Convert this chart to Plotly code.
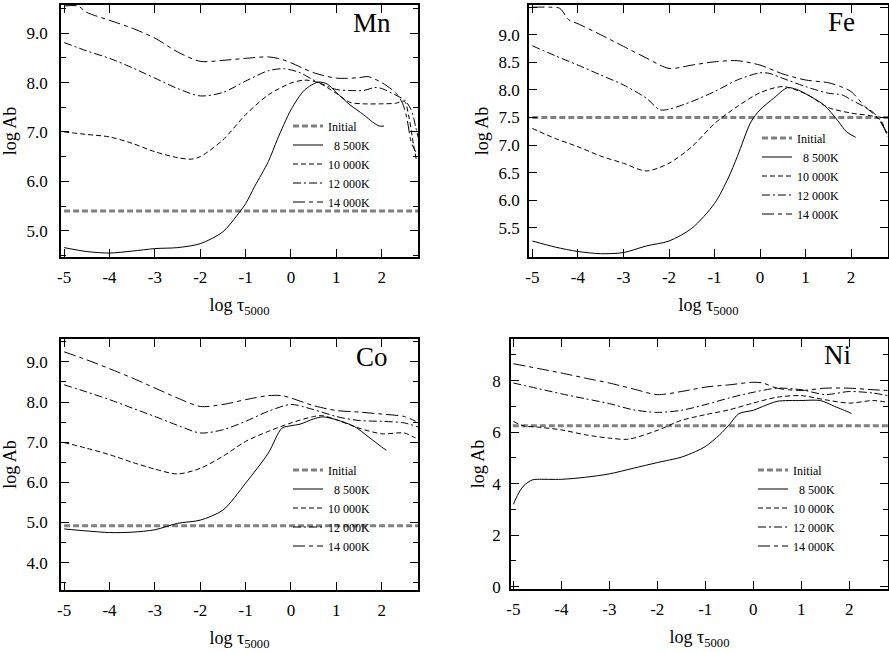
import plotly.graph_objects as go

W, H = 889, 652
FONT = "Liberation Serif"

# ---------------- data ----------------
SERIES_NAMES = ["Initial", "\u00a0\u00a08 500K", "10 000K", "12 000K", "14 000K"]
INITIAL_X = [-5.2, 3.0]

# Mn
MN_INITIAL = 5.40
MN_8500_X = [-5, -4.5, -4, -3.5, -3, -2.5, -2, -1.5, -1.2, -1, -0.8, -0.5, -0.3, 0, 0.3, 0.6, 0.8, 1.0, 1.3, 1.6, 1.8, 1.95, 2.05]
MN_8500_Y = [4.66, 4.58, 4.55, 4.59, 4.64, 4.66, 4.74, 4.98, 5.3, 5.55, 5.9, 6.4, 6.85, 7.45, 7.85, 8.01, 7.97, 7.8, 7.55, 7.35, 7.2, 7.12, 7.12]
MN_10000_X = [-5, -4.5, -4, -3.5, -3, -2.5, -2.2, -2, -1.5, -1, -0.5, 0, 0.3, 0.6, 1.0, 1.3, 1.6, 2.0, 2.3, 2.5, 2.6, 2.7, 2.76]
MN_10000_Y = [7.0, 6.95, 6.9, 6.77, 6.6, 6.48, 6.45, 6.5, 6.84, 7.35, 7.75, 7.99, 8.05, 8.0, 7.78, 7.6, 7.57, 7.57, 7.58, 7.62, 7.3, 6.75, 6.45]
MN_12000_X = [-5, -4.5, -4, -3.5, -3, -2.5, -2, -1.5, -1, -0.5, -0.15, 0.2, 0.5, 1.0, 1.3, 1.6, 1.85, 2.0, 2.3, 2.5, 2.65, 2.75, 2.8]
MN_12000_Y = [8.81, 8.64, 8.49, 8.3, 8.09, 7.88, 7.73, 7.8, 8.03, 8.24, 8.28, 8.2, 8.05, 7.86, 7.84, 7.84, 7.9, 7.88, 7.75, 7.65, 7.45, 7.1, 6.9]
MN_14000_X = [-5, -4.7, -4.5, -4, -3.5, -3, -2.5, -2, -1.5, -1, -0.5, -0.2, 0, 0.5, 1.0, 1.5, 1.7, 2.0, 2.3, 2.45, 2.55, 2.65, 2.75]
MN_14000_Y = [9.55, 9.55, 9.42, 9.26, 9.1, 8.9, 8.62, 8.43, 8.45, 8.49, 8.52, 8.47, 8.4, 8.2, 8.09, 8.1, 8.12, 8.0, 7.8, 7.6, 7.3, 6.8, 6.6]

# Fe
FE_INITIAL = 7.50
FE_8500_X = [-5, -4.5, -4, -3.5, -3, -2.5, -2, -1.5, -1, -0.7, -0.5, -0.2, 0, 0.3, 0.6, 0.8, 1.0, 1.4, 1.7, 1.9, 2.1]
FE_8500_Y = [5.26, 5.15, 5.07, 5.03, 5.05, 5.17, 5.26, 5.49, 5.94, 6.4, 6.79, 7.42, 7.64, 7.85, 8.04, 8.01, 7.93, 7.73, 7.45, 7.24, 7.14]
FE_10000_X = [-5, -4.5, -4, -3.5, -3, -2.5, -2, -1.5, -1, -0.5, 0, 0.5, 1.0, 1.5, 2.0, 2.5, 2.65, 2.8]
FE_10000_Y = [7.30, 7.12, 6.97, 6.8, 6.67, 6.53, 6.67, 6.97, 7.39, 7.70, 7.95, 8.06, 7.93, 7.68, 7.58, 7.52, 7.45, 7.15]
FE_12000_X = [-5, -4.5, -4, -3.5, -3, -2.5, -2.2, -2, -1.5, -1, -0.5, 0, 0.2, 0.5, 1.0, 1.5, 1.8, 2.0, 2.5, 2.8]
FE_12000_Y = [8.80, 8.62, 8.45, 8.27, 8.09, 7.85, 7.64, 7.65, 7.79, 7.97, 8.18, 8.31, 8.30, 8.21, 8.06, 7.94, 7.91, 7.82, 7.58, 7.21]
FE_14000_X = [-5, -4.6, -4.4, -4.2, -4, -3.5, -3, -2.5, -2, -1.5, -1, -0.5, 0, 0.5, 1.0, 1.5, 1.8, 2.0, 2.3, 2.6, 2.8]
FE_14000_Y = [9.5, 9.5, 9.48, 9.27, 9.2, 9.0, 8.79, 8.58, 8.39, 8.45, 8.51, 8.53, 8.45, 8.29, 8.18, 8.13, 8.05, 7.97, 7.70, 7.48, 7.18]

# Co
CO_INITIAL = 4.92
CO_8500_X = [-5, -4.5, -4, -3.5, -3, -2.5, -2, -1.5, -1, -0.5, -0.2, 0, 0.2, 0.5, 0.7, 1.0, 1.4, 1.7, 2.0, 2.1]
CO_8500_Y = [4.84, 4.79, 4.75, 4.76, 4.82, 4.98, 5.06, 5.31, 5.98, 6.73, 7.35, 7.41, 7.45, 7.58, 7.63, 7.56, 7.39, 7.14, 6.88, 6.80]
CO_10000_X = [-5, -4.5, -4, -3.5, -3, -2.5, -2, -1.5, -1, -0.5, 0, 0.5, 0.7, 1.0, 1.5, 2.0, 2.5, 2.7, 2.8]
CO_10000_Y = [6.99, 6.85, 6.69, 6.5, 6.33, 6.21, 6.35, 6.65, 7.02, 7.27, 7.48, 7.64, 7.66, 7.56, 7.35, 7.21, 7.23, 7.13, 7.08]
CO_12000_X = [-5, -4.5, -4, -3.5, -3, -2.5, -2, -1.5, -1, -0.5, 0, 0.5, 1.0, 1.5, 2.0, 2.5, 2.8]
CO_12000_Y = [8.43, 8.25, 8.06, 7.85, 7.64, 7.42, 7.23, 7.31, 7.52, 7.77, 7.94, 7.81, 7.64, 7.54, 7.52, 7.48, 7.38]
CO_14000_X = [-5, -4.5, -4, -3.5, -3, -2.5, -2, -1.5, -1, -0.5, -0.2, 0, 0.5, 1.0, 1.5, 2.0, 2.5, 2.75]
CO_14000_Y = [9.25, 9.05, 8.83, 8.6, 8.35, 8.1, 7.89, 7.94, 8.06, 8.16, 8.16, 8.10, 7.91, 7.79, 7.75, 7.70, 7.64, 7.52]

# Ni
NI_INITIAL = 6.25
NI_8500_X = [-5, -4.9, -4.8, -4.7, -4.6, -4.5, -4, -3.5, -3, -2.5, -2, -1.5, -1.2, -1, -0.7, -0.5, -0.3, 0, 0.2, 0.5, 1.0, 1.4, 1.7, 2.0, 2.05]
NI_8500_Y = [3.20, 3.6, 3.89, 4.05, 4.15, 4.17, 4.17, 4.25, 4.38, 4.60, 4.82, 5.03, 5.25, 5.44, 5.90, 6.29, 6.72, 6.85, 7.0, 7.2, 7.23, 7.23, 7.0, 6.77, 6.72]
NI_10000_X = [-5, -4.8, -4.5, -4, -3.5, -3, -2.6, -2, -1.5, -1, -0.5, 0, 0.5, 1.0, 1.5, 2.0, 2.5, 2.8]
NI_10000_Y = [6.42, 6.25, 6.2, 6.09, 5.9, 5.77, 5.73, 6.07, 6.46, 6.68, 6.87, 7.13, 7.36, 7.42, 7.26, 7.13, 7.23, 7.16]
NI_12000_X = [-5, -4.5, -4, -3.5, -3, -2.5, -2, -1.5, -1, -0.5, 0, 0.5, 1.0, 1.5, 2.0, 2.5, 2.8]
NI_12000_Y = [7.91, 7.7, 7.49, 7.3, 7.11, 6.87, 6.77, 6.85, 7.07, 7.33, 7.55, 7.71, 7.65, 7.46, 7.58, 7.52, 7.42]
NI_14000_X = [-5, -4.5, -4, -3.5, -3, -2.5, -2, -1.5, -1, -0.5, 0, 0.2, 0.5, 1.0, 1.5, 2.0, 2.5, 2.8]
NI_14000_Y = [8.66, 8.48, 8.30, 8.1, 7.91, 7.68, 7.46, 7.58, 7.75, 7.84, 7.94, 7.91, 7.71, 7.62, 7.71, 7.71, 7.65, 7.62]

# ticks
X_TICK_VALS = [-5, -4, -3, -2, -1, 0, 1, 2]
X_TICK_TEXT = ["-5", "-4", "-3", "-2", "-1", "0", "1", "2"]
MN_Y_TICKS = [5.0, 6.0, 7.0, 8.0, 9.0]
FE_Y_TICKS = [5.5, 6.0, 6.5, 7.0, 7.5, 8.0, 8.5, 9.0, 9.5]
CO_Y_TICKS = [4.0, 5.0, 6.0, 7.0, 8.0, 9.0]
NI_Y_TICKS = [0, 2, 4, 6, 8]

# ---------------- styling / layout ----------------
panels = [
    dict(name="Mn", init=MN_INITIAL,
         series=[(MN_8500_X, MN_8500_Y), (MN_10000_X, MN_10000_Y), (MN_12000_X, MN_12000_Y), (MN_14000_X, MN_14000_Y)],
         dom_px=(61, 418, 5, 257), xr=[-5.07, 2.80], yr=[4.47, 9.57],
         yticks=MN_Y_TICKS, yfmt=".1f", minor=0.5, lab=(393, 23),
         leg=(288, 164), ystand=32, ylabstand=8),
    dict(name="Fe", init=FE_INITIAL,
         series=[(FE_8500_X, FE_8500_Y), (FE_10000_X, FE_10000_Y), (FE_12000_X, FE_12000_Y), (FE_14000_X, FE_14000_Y)],
         dom_px=(529, 888, 5, 257), xr=[-5.075, 2.81], yr=[4.97, 9.54],
         yticks=FE_Y_TICKS, yfmt=".1f", minor=None, lab=(857, 22),
         leg=(757, 176), ystand=5, ylabstand=4),
    dict(name="Co", init=CO_INITIAL,
         series=[(CO_8500_X, CO_8500_Y), (CO_10000_X, CO_10000_Y), (CO_12000_X, CO_12000_Y), (CO_14000_X, CO_14000_Y)],
         dom_px=(61, 418, 339, 590), xr=[-5.07, 2.80], yr=[3.32, 9.57],
         yticks=CO_Y_TICKS, yfmt=".1f", minor=0.5, lab=(390, 357),
         leg=(288, 508), ystand=32, ylabstand=8),
    dict(name="Ni", init=NI_INITIAL,
         series=[(NI_8500_X, NI_8500_Y), (NI_10000_X, NI_10000_Y), (NI_12000_X, NI_12000_Y), (NI_14000_X, NI_14000_Y)],
         dom_px=(511, 888, 339, 589), xr=[-5.05, 2.81], yr=[-0.09, 9.62],
         yticks=NI_Y_TICKS, yfmt="d", minor=1, lab=(853, 355),
         leg=(753, 508), ystand=3, ylabstand=5),
]

DASHES = ["solid", "5px,3px", "8px,3px,2px,3px", "12px,4px,4px,4px"]

fig = go.Figure()
layout = dict(width=W, height=H, margin=dict(l=0, r=0, t=0, b=0, autoexpand=False),
              paper_bgcolor="white", plot_bgcolor="white",
              font=dict(family=FONT, color="black", size=17),
              annotations=[])

for i, p in enumerate(panels):
    k = "" if i == 0 else str(i + 1)
    xa, ya = "x" + k, "y" + k
    leg = "legend" + k
    x0, x1, y0, y1 = p["dom_px"]
    fig.add_trace(go.Scatter(x=INITIAL_X, y=[p["init"], p["init"]], mode="lines",
                             name=SERIES_NAMES[0], xaxis=xa, yaxis=ya, legend=leg,
                             line=dict(color="#808080", width=3, dash="6px,3px")))
    for j, (sx, sy) in enumerate(p["series"]):
        fig.add_trace(go.Scatter(x=sx, y=sy, mode="lines", name=SERIES_NAMES[j + 1],
                                 xaxis=xa, yaxis=ya, legend=leg,
                                 line=dict(color="black", width=1, dash=DASHES[j],
                                           shape="spline", smoothing=0.8)))
    common = dict(showline=True, linecolor="black", linewidth=1.5, mirror="ticks",
                  ticks="inside", ticklen=8, tickwidth=1.3, tickcolor="black",
                  showgrid=False, zeroline=False, automargin=False,
                  tickfont=dict(family=FONT, size=17, color="black"))
    layout["xaxis" + k] = dict(common, domain=[x0 / W, x1 / W], range=p["xr"], anchor=ya,
                               tickmode="array", tickvals=X_TICK_VALS, ticktext=X_TICK_TEXT,
                               ticklabelstandoff=4,
                               title=dict(text="log τ<sub>5000</sub>", standoff=12,
                                          font=dict(family=FONT, size=18)))
    yax = dict(common, domain=[1 - y1 / H, 1 - y0 / H], range=p["yr"], anchor=xa,
               tickmode="array", tickvals=p["yticks"], tickformat=p["yfmt"],
               ticklabelstandoff=p["ylabstand"],
               title=dict(text="log Ab", standoff=p["ystand"], font=dict(family=FONT, size=18)))
    if p["minor"]:
        yax["minor"] = dict(dtick=p["minor"], ticks="inside", ticklen=5, tickwidth=1.2,
                            tickcolor="black", showgrid=False)
    layout["yaxis" + k] = yax
    lx, ly = p["leg"]
    layout[leg] = dict(x=lx / W, y=1 - ly / H, xanchor="left", yanchor="middle",
                       bgcolor="rgba(0,0,0,0)", borderwidth=0,
                       font=dict(family=FONT, size=12, color="black"),
                       tracegroupgap=0)
    lxp, lyp = p["lab"]
    layout["annotations"].append(dict(text=p["name"], showarrow=False,
                                      xref="paper", yref="paper",
                                      x=lxp / W, y=1 - lyp / H,
                                      xanchor="right", yanchor="middle",
                                      font=dict(family=FONT, size=27, color="black")))

fig.update_layout(**layout)
fig.write_html("out.html", config={"displayModeBar": False},
               post_script="document.body.style.margin='0px';")
